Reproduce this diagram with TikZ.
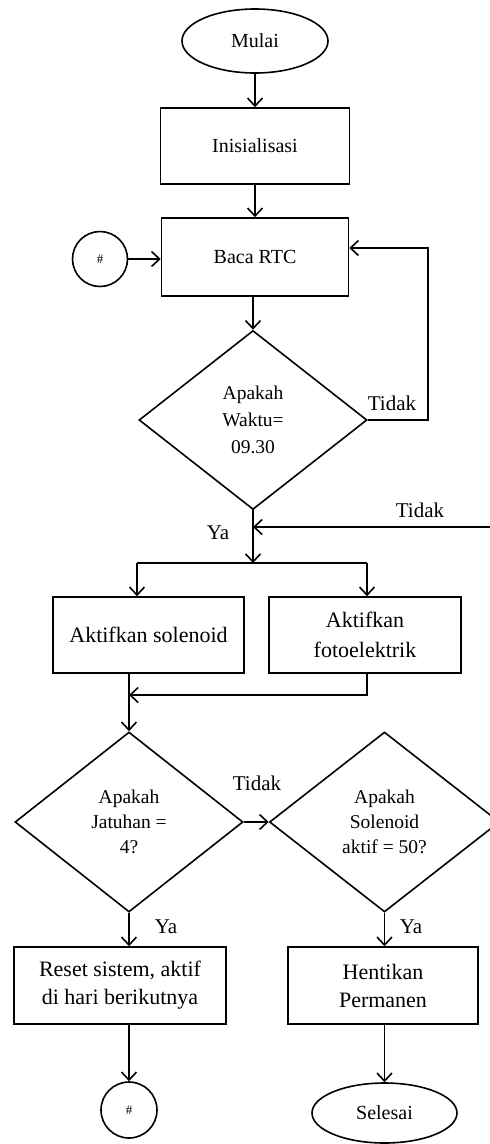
\documentclass[tikz,border=0pt]{standalone}
\usepackage{fontspec}
\setmainfont{Liberation Serif}
\usetikzlibrary{shapes.geometric,arrows.meta}
\begin{document}
\begin{tikzpicture}[x=1pt,y=-1pt,
  line width=1.6pt,
  base/.style={draw, line width=1.6pt, inner sep=0pt, align=center},
  box/.style={base, rectangle},
  term/.style={base, ellipse},
  dec/.style={base, diamond},
  conn/.style={base, circle, minimum size=55pt, font=\fontsize{13}{15}\selectfont},
  arr/.style={-{Straight Barb[length=8pt,width=15pt]}},
  smalltext/.style={font=\fontsize{20}{25}\selectfont},
  bigtext/.style={font=\fontsize{22}{28}\selectfont},
  lab/.style={inner sep=0pt, font=\fontsize{21}{25}\selectfont}]
\clip (0,0) rectangle (490,1144);
\fill[white] (0,0) rectangle (490,1144);
% nodes
\node[term, smalltext, minimum width=146pt, minimum height=64pt] (mulai) at (255,41) {Mulai};
\node[box, smalltext, minimum width=189pt, minimum height=76pt] (init) at (255,146) {Inisialisasi};
\node[box, smalltext, minimum width=187pt, minimum height=78pt] (baca) at (255,257) {Baca RTC};
\node[conn] (hash1) at (100,259) {\#};
\node[dec, font=\fontsize{19.5}{27}\selectfont, minimum width=228pt, minimum height=179pt] (d1) at (253,420) {Apakah\\Waktu=\\09.30};
\node[box, bigtext, minimum width=191pt, minimum height=76pt] (sol) at (148.5,635) {Aktifkan solenoid};
\node[box, font=\fontsize{22}{30}\selectfont, minimum width=192pt, minimum height=76pt] (foto) at (365,635) {Aktifkan\\fotoelektrik};
\node[dec, font=\fontsize{19.5}{25}\selectfont, minimum width=228pt, minimum height=180pt] (d2) at (129,822) {Apakah\\Jatuhan =\\4?};
\node[dec, font=\fontsize{19.5}{25}\selectfont, minimum width=230pt, minimum height=180pt] (d3) at (384.5,822) {Apakah\\Solenoid\\aktif = 50?};
\node[box, bigtext, minimum width=212pt, minimum height=77pt] (reset) at (120,985.5) {Reset sistem, aktif\\di hari berikutnya};
\node[box, bigtext, minimum width=190pt, minimum height=77pt] (hent) at (383,985.5) {Hentikan\\Permanen};
\node[conn, minimum size=56pt] (hash2) at (129,1110) {\#};
\node[term, smalltext, minimum width=145pt, minimum height=60pt] (sel) at (384.5,1113) {Selesai};
% coordinates
\coordinate (r1) at (428,248);
\coordinate (split) at (253,563);
\coordinate (sl) at (137,563);
\coordinate (sr) at (367,563);
\coordinate (tin) at (492,527);
\coordinate (mj) at (129,695);
% connectors
\draw[arr] (mulai) -- (init);
\draw[arr] (init) -- (baca);
\draw[arr] (hash1.east) -- (hash1.east -| baca.west);
\draw[arr] (baca.south -| d1.north) -- (d1.north);
\draw[arr] (d1.east) -| (r1) -- (r1 -| baca.east);
\draw[arr] (d1.south) -- (split);
\draw[arr] (tin) -- (tin -| d1.south);
\draw (sl) -- (sr);
\draw[arr] (sl) -- (sl |- sol.north);
\draw[arr] (sr) -- (sr |- foto.north);
\draw[arr] (foto.south -| sr) |- (mj);
\draw[arr] (mj |- sol.south) -- (d2.north);
\draw[arr] (d2.east) -- (d3.west);
\draw[arr] (d2.south) -- (d2.south |- reset.north);
\draw[arr] (d2.south |- reset.south) -- (hash2.north);
\draw[arr] (d3.south) -- (d3.south |- hent.north);
\draw[arr] (d3.south |- hent.south) -- (sel.north);
% labels
\node[lab] (t1) at (392,403) {Tidak};
\node[lab] (t2) at (420,510) {Tidak};
\node[lab] (y1) at (218,533) {Ya};
\node[lab] (t3) at (257,783) {Tidak};
\node[lab] (y2) at (166,927) {Ya};
\node[lab] (y3) at (411,927) {Ya};
\end{tikzpicture}
\end{document}
